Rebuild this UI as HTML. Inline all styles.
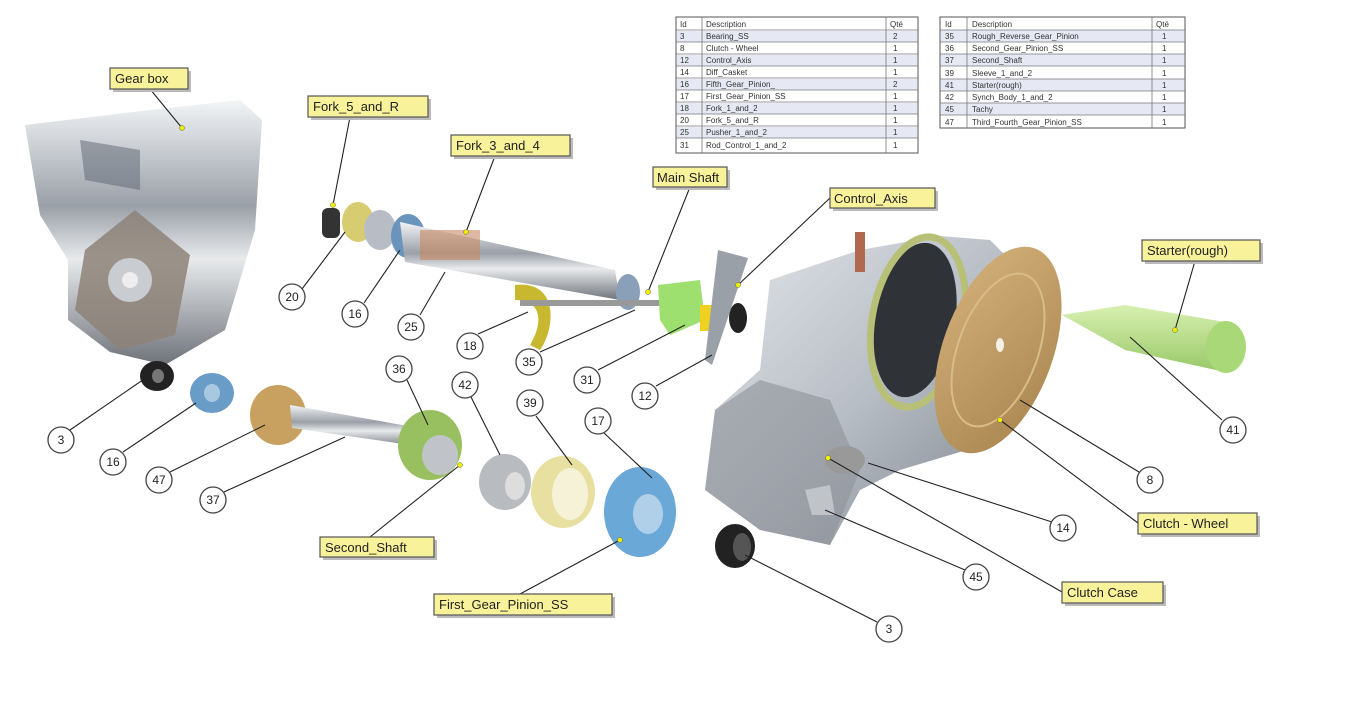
<!DOCTYPE html>
<html><head><meta charset="utf-8"><style>
html,body{margin:0;padding:0;background:#fff;}
svg{display:block;font-family:"Liberation Sans",sans-serif;}
.lb{fill:#f8f29a;stroke:#555;stroke-width:1.2;}
.sh{fill:#bbb;}
.lt{font-size:13px;fill:#222;}
.c{fill:#fff;stroke:#444;stroke-width:1.3;}
.ct{font-size:12px;fill:#222;text-anchor:middle;}
.ld{stroke:#222;stroke-width:1.1;fill:none;}
.tb{font-size:8px;fill:#333;}
.dot{fill:#ee0;stroke:#664;stroke-width:.5;}
</style></head><body>
<svg width="1351" height="728" viewBox="0 0 1351 728" xmlns="http://www.w3.org/2000/svg">
<defs>
<linearGradient id="metal" x1="0" y1="0" x2="0" y2="1"><stop offset="0" stop-color="#f2f4f6"/><stop offset=".4" stop-color="#9aa0a8"/><stop offset=".6" stop-color="#e8eaec"/><stop offset="1" stop-color="#6e737a"/></linearGradient>
<linearGradient id="metal2" x1="0" y1="0" x2="1" y2="1"><stop offset="0" stop-color="#e4e7ea"/><stop offset=".5" stop-color="#b8bec6"/><stop offset="1" stop-color="#7a8088"/></linearGradient>
<linearGradient id="tan" x1="0" y1="0" x2="1" y2="1"><stop offset="0" stop-color="#d4b07a"/><stop offset="1" stop-color="#a8844e"/></linearGradient>
<linearGradient id="grn" x1="0" y1="0" x2="0" y2="1"><stop offset="0" stop-color="#d8f0b0"/><stop offset="1" stop-color="#98c868"/></linearGradient>
</defs>

<!-- Gearbox left -->
<path d="M25 125 L150 110 L240 100 L262 120 L255 230 L225 330 L165 365 L110 352 L68 320 L68 260 L40 215 Z" fill="url(#metal)"/>
<path d="M85 250 L135 210 L190 255 L175 335 L120 350 L75 310 Z" fill="#8d8278" opacity=".85"/>
<circle cx="130" cy="280" r="22" fill="#c9ccd0"/>
<circle cx="130" cy="280" r="8" fill="#eee"/>
<path d="M80 140 L140 150 L140 190 L85 180 Z" fill="#5c6470" opacity=".5"/>

<!-- Main shaft assembly -->
<rect x="322" y="208" width="18" height="30" rx="6" fill="#333"/>
<ellipse cx="358" cy="222" rx="16" ry="20" fill="#d8cc70"/>
<ellipse cx="380" cy="230" rx="16" ry="20" fill="#b8bcc4"/>
<ellipse cx="408" cy="236" rx="17" ry="22" fill="#6a94bc"/>
<path d="M400 222 L615 270 L620 300 L405 262 Z" fill="url(#metal)"/>
<rect x="420" y="230" width="60" height="30" fill="#c88860" opacity=".6"/>
<ellipse cx="628" cy="292" rx="12" ry="18" fill="#8aa0b8"/>
<path d="M515 285 C560 280 555 330 540 350 L530 345 C545 320 540 300 515 300 Z" fill="#c8b830"/>
<path d="M520 300 L680 300 L680 306 L520 306 Z" fill="#999"/>
<path d="M658 285 L700 280 L705 320 L670 335 L660 320 Z" fill="#9ee070"/>
<rect x="700" y="305" width="18" height="26" fill="#f0d020"/>
<ellipse cx="738" cy="318" rx="9" ry="15" fill="#222"/>
<path d="M718 250 L748 258 L712 365 L705 360 Z" fill="#9aa0a8"/>

<!-- Lower shaft assembly -->
<ellipse cx="157" cy="376" rx="17" ry="15" fill="#222"/>
<ellipse cx="158" cy="376" rx="6" ry="7" fill="#777"/>
<ellipse cx="212" cy="393" rx="22" ry="20" fill="#6a9cc8"/>
<ellipse cx="212" cy="393" rx="8" ry="9" fill="#a8c8e0"/>
<ellipse cx="278" cy="415" rx="28" ry="30" fill="#c8a060"/>
<path d="M290 405 L430 430 L432 448 L292 428 Z" fill="url(#metal)"/>
<ellipse cx="430" cy="445" rx="32" ry="35" fill="#98c060"/>
<ellipse cx="440" cy="455" rx="18" ry="20" fill="#c0c4c8"/>
<ellipse cx="505" cy="482" rx="26" ry="28" fill="#b8bcc0"/>
<ellipse cx="515" cy="486" rx="10" ry="14" fill="#ddd"/>
<ellipse cx="563" cy="492" rx="32" ry="36" fill="#e8e0a0"/>
<ellipse cx="570" cy="494" rx="18" ry="26" fill="#f6f2d8"/>
<ellipse cx="640" cy="512" rx="36" ry="45" fill="#6aa8d8"/>
<ellipse cx="648" cy="514" rx="15" ry="20" fill="#b0d0ea"/>

<!-- Clutch case -->
<path d="M770 280 L860 250 L940 236 L990 240 L1025 275 L1030 400 L1000 440 L900 470 L860 490 L830 545 L760 530 L705 490 L715 410 L760 370 Z" fill="url(#metal2)"/>
<path d="M705 490 L715 410 L760 380 L830 400 L860 470 L830 545 L760 530 Z" fill="#8d939a" opacity=".6"/>
<ellipse cx="915" cy="320" rx="40" ry="78" fill="#2f3236" transform="rotate(10 915 320)"/>
<ellipse cx="918" cy="322" rx="46" ry="86" fill="none" stroke="#b8c078" stroke-width="7" transform="rotate(10 918 322)"/>
<rect x="855" y="232" width="10" height="40" fill="#b06850"/>
<ellipse cx="845" cy="460" rx="20" ry="14" fill="#999"/>
<path d="M805 490 L830 485 L835 515 L812 515 Z" fill="#c0c4c8"/>
<ellipse cx="735" cy="546" rx="20" ry="22" fill="#222"/>
<ellipse cx="742" cy="547" rx="9" ry="14" fill="#555"/>

<!-- Clutch disc -->
<ellipse cx="998" cy="350" rx="55" ry="108" fill="url(#tan)" transform="rotate(20 998 350)"/>
<ellipse cx="998" cy="350" rx="40" ry="80" fill="none" stroke="#d8bc8a" stroke-width="2" transform="rotate(20 998 350)"/>
<ellipse cx="1000" cy="345" rx="4" ry="7" fill="#f4f0e8"/>

<!-- Starter -->
<path d="M1062 315 L1125 305 L1225 322 L1225 372 L1125 350 Z" fill="url(#grn)"/>
<ellipse cx="1226" cy="347" rx="20" ry="26" fill="#a8d878"/>

<!-- Tables -->
<g>
<rect x="676" y="17" width="242" height="136" fill="#fff" stroke="#555"/>
<g fill="#e6e8f4">
<rect x="677" y="31" width="240" height="11"/><rect x="677" y="55" width="240" height="11"/><rect x="677" y="79" width="240" height="11"/><rect x="677" y="103" width="240" height="11"/><rect x="677" y="127" width="240" height="11"/>
</g>
<g stroke="#777" stroke-width=".8">
<line x1="676" y1="30" x2="918" y2="30"/><line x1="676" y1="42" x2="918" y2="42"/><line x1="676" y1="54" x2="918" y2="54"/><line x1="676" y1="66" x2="918" y2="66"/><line x1="676" y1="78" x2="918" y2="78"/><line x1="676" y1="90" x2="918" y2="90"/><line x1="676" y1="102" x2="918" y2="102"/><line x1="676" y1="114" x2="918" y2="114"/><line x1="676" y1="126" x2="918" y2="126"/><line x1="676" y1="138" x2="918" y2="138"/>
<line x1="702" y1="17" x2="702" y2="153"/><line x1="886" y1="17" x2="886" y2="153"/>
</g>
<g class="tb">
<text x="680" y="27">Id</text><text x="706" y="27">Description</text><text x="890" y="27">Qté</text>
<text x="680" y="39">3</text><text x="706" y="39">Bearing_SS</text><text x="893" y="39">2</text>
<text x="680" y="51">8</text><text x="706" y="51">Clutch - Wheel</text><text x="893" y="51">1</text>
<text x="680" y="63">12</text><text x="706" y="63">Control_Axis</text><text x="893" y="63">1</text>
<text x="680" y="75">14</text><text x="706" y="75">Diff_Casket</text><text x="893" y="75">1</text>
<text x="680" y="87">16</text><text x="706" y="87">Fifth_Gear_Pinion_</text><text x="893" y="87">2</text>
<text x="680" y="99">17</text><text x="706" y="99">First_Gear_Pinion_SS</text><text x="893" y="99">1</text>
<text x="680" y="111">18</text><text x="706" y="111">Fork_1_and_2</text><text x="893" y="111">1</text>
<text x="680" y="123">20</text><text x="706" y="123">Fork_5_and_R</text><text x="893" y="123">1</text>
<text x="680" y="135">25</text><text x="706" y="135">Pusher_1_and_2</text><text x="893" y="135">1</text>
<text x="680" y="148">31</text><text x="706" y="148">Rod_Control_1_and_2</text><text x="893" y="148">1</text>
</g>
</g>
<g>
<rect x="940" y="17" width="245" height="111" fill="#fff" stroke="#555"/>
<g fill="#e6e8f4">
<rect x="941" y="30" width="243" height="12"/><rect x="941" y="54" width="243" height="12"/><rect x="941" y="79" width="243" height="12"/><rect x="941" y="103" width="243" height="12"/>
</g>
<g stroke="#777" stroke-width=".8">
<line x1="940" y1="30" x2="1185" y2="30"/><line x1="940" y1="42" x2="1185" y2="42"/><line x1="940" y1="54" x2="1185" y2="54"/><line x1="940" y1="66" x2="1185" y2="66"/><line x1="940" y1="79" x2="1185" y2="79"/><line x1="940" y1="91" x2="1185" y2="91"/><line x1="940" y1="103" x2="1185" y2="103"/><line x1="940" y1="115" x2="1185" y2="115"/>
<line x1="967" y1="17" x2="967" y2="128"/><line x1="1152" y1="17" x2="1152" y2="128"/>
</g>
<g class="tb">
<text x="945" y="27">Id</text><text x="972" y="27">Description</text><text x="1156" y="27">Qté</text>
<text x="945" y="39">35</text><text x="972" y="39">Rough_Reverse_Gear_Pinion</text><text x="1162" y="39">1</text>
<text x="945" y="51">36</text><text x="972" y="51">Second_Gear_Pinion_SS</text><text x="1162" y="51">1</text>
<text x="945" y="63">37</text><text x="972" y="63">Second_Shaft</text><text x="1162" y="63">1</text>
<text x="945" y="76">39</text><text x="972" y="76">Sleeve_1_and_2</text><text x="1162" y="76">1</text>
<text x="945" y="88">41</text><text x="972" y="88">Starter(rough)</text><text x="1162" y="88">1</text>
<text x="945" y="100">42</text><text x="972" y="100">Synch_Body_1_and_2</text><text x="1162" y="100">1</text>
<text x="945" y="112">45</text><text x="972" y="112">Tachy</text><text x="1162" y="112">1</text>
<text x="945" y="125">47</text><text x="972" y="125">Third_Fourth_Gear_Pinion_SS</text><text x="1162" y="125">1</text>
</g>
</g>

<!-- Leaders -->
<g class="ld">
<line x1="150" y1="89" x2="182" y2="128"/>
<line x1="350" y1="117" x2="333" y2="205"/>
<line x1="495" y1="156" x2="466" y2="232"/>
<line x1="690" y1="187" x2="648" y2="292"/>
<line x1="830" y1="198" x2="738" y2="285"/>
<line x1="1195" y1="261" x2="1175" y2="330"/>
<line x1="1138" y1="523" x2="1000" y2="420"/>
<line x1="1062" y1="592" x2="828" y2="458"/>
<line x1="370" y1="537" x2="460" y2="465"/>
<line x1="520" y1="594" x2="620" y2="540"/>
<line x1="302" y1="289" x2="345" y2="232"/>
<line x1="364" y1="303" x2="400" y2="250"/>
<line x1="420" y1="315" x2="445" y2="272"/>
<line x1="478" y1="334" x2="528" y2="312"/>
<line x1="540" y1="352" x2="635" y2="310"/>
<line x1="598" y1="370" x2="685" y2="325"/>
<line x1="656" y1="386" x2="712" y2="355"/>
<line x1="70" y1="430" x2="150" y2="375"/>
<line x1="123" y1="452" x2="196" y2="403"/>
<line x1="170" y1="472" x2="265" y2="425"/>
<line x1="224" y1="492" x2="345" y2="437"/>
<line x1="407" y1="380" x2="428" y2="425"/>
<line x1="471" y1="397" x2="500" y2="455"/>
<line x1="536" y1="416" x2="572" y2="465"/>
<line x1="604" y1="433" x2="652" y2="478"/>
<line x1="1222" y1="420" x2="1130" y2="337"/>
<line x1="1139" y1="472" x2="1020" y2="400"/>
<line x1="1052" y1="522" x2="868" y2="463"/>
<line x1="965" y1="570" x2="825" y2="510"/>
<line x1="877" y1="622" x2="745" y2="555"/>
</g>
<g class="dot">
<circle cx="182" cy="128" r="2.5"/><circle cx="333" cy="205" r="2.5"/><circle cx="466" cy="232" r="2.5"/><circle cx="648" cy="292" r="2.5"/><circle cx="738" cy="285" r="2.5"/><circle cx="1175" cy="330" r="2.5"/><circle cx="1000" cy="420" r="2.5"/><circle cx="828" cy="458" r="2.5"/><circle cx="460" cy="465" r="2.5"/><circle cx="620" cy="540" r="2.5"/>
</g>

<!-- Labels -->
<g>
<rect class="sh" x="113" y="71" width="78" height="21"/><rect class="lb" x="110" y="68" width="78" height="21"/><text class="lt" x="115" y="83">Gear box</text>
<rect class="sh" x="311" y="99" width="120" height="21"/><rect class="lb" x="308" y="96" width="120" height="21"/><text class="lt" x="313" y="111">Fork_5_and_R</text>
<rect class="sh" x="454" y="138" width="119" height="21"/><rect class="lb" x="451" y="135" width="119" height="21"/><text class="lt" x="456" y="150">Fork_3_and_4</text>
<rect class="sh" x="656" y="170" width="74" height="20"/><rect class="lb" x="653" y="167" width="74" height="20"/><text class="lt" x="657" y="182">Main Shaft</text>
<rect class="sh" x="833" y="191" width="105" height="20"/><rect class="lb" x="830" y="188" width="105" height="20"/><text class="lt" x="834" y="203">Control_Axis</text>
<rect class="sh" x="1145" y="243" width="118" height="21"/><rect class="lb" x="1142" y="240" width="118" height="21"/><text class="lt" x="1147" y="255">Starter(rough)</text>
<rect class="sh" x="1141" y="516" width="119" height="21"/><rect class="lb" x="1138" y="513" width="119" height="21"/><text class="lt" x="1143" y="528">Clutch - Wheel</text>
<rect class="sh" x="1065" y="585" width="101" height="21"/><rect class="lb" x="1062" y="582" width="101" height="21"/><text class="lt" x="1067" y="597">Clutch Case</text>
<rect class="sh" x="323" y="540" width="114" height="20"/><rect class="lb" x="320" y="537" width="114" height="20"/><text class="lt" x="325" y="552">Second_Shaft</text>
<rect class="sh" x="437" y="597" width="178" height="21"/><rect class="lb" x="434" y="594" width="178" height="21"/><text class="lt" x="439" y="609">First_Gear_Pinion_SS</text>
</g>

<!-- Number circles -->
<g>
<circle class="c" cx="292" cy="297" r="13"/><text class="ct" x="292" y="301">20</text>
<circle class="c" cx="355" cy="314" r="13"/><text class="ct" x="355" y="318">16</text>
<circle class="c" cx="411" cy="327" r="13"/><text class="ct" x="411" y="331">25</text>
<circle class="c" cx="470" cy="346" r="13"/><text class="ct" x="470" y="350">18</text>
<circle class="c" cx="529" cy="362" r="13"/><text class="ct" x="529" y="366">35</text>
<circle class="c" cx="587" cy="380" r="13"/><text class="ct" x="587" y="384">31</text>
<circle class="c" cx="645" cy="396" r="13"/><text class="ct" x="645" y="400">12</text>
<circle class="c" cx="61" cy="440" r="13"/><text class="ct" x="61" y="444">3</text>
<circle class="c" cx="113" cy="462" r="13"/><text class="ct" x="113" y="466">16</text>
<circle class="c" cx="159" cy="480" r="13"/><text class="ct" x="159" y="484">47</text>
<circle class="c" cx="213" cy="500" r="13"/><text class="ct" x="213" y="504">37</text>
<circle class="c" cx="399" cy="369" r="13"/><text class="ct" x="399" y="373">36</text>
<circle class="c" cx="465" cy="385" r="13"/><text class="ct" x="465" y="389">42</text>
<circle class="c" cx="530" cy="403" r="13"/><text class="ct" x="530" y="407">39</text>
<circle class="c" cx="598" cy="421" r="13"/><text class="ct" x="598" y="425">17</text>
<circle class="c" cx="1233" cy="430" r="13"/><text class="ct" x="1233" y="434">41</text>
<circle class="c" cx="1150" cy="480" r="13"/><text class="ct" x="1150" y="484">8</text>
<circle class="c" cx="1063" cy="528" r="13"/><text class="ct" x="1063" y="532">14</text>
<circle class="c" cx="976" cy="577" r="13"/><text class="ct" x="976" y="581">45</text>
<circle class="c" cx="889" cy="629" r="13"/><text class="ct" x="889" y="633">3</text>
</g>
</svg>
</body></html>
